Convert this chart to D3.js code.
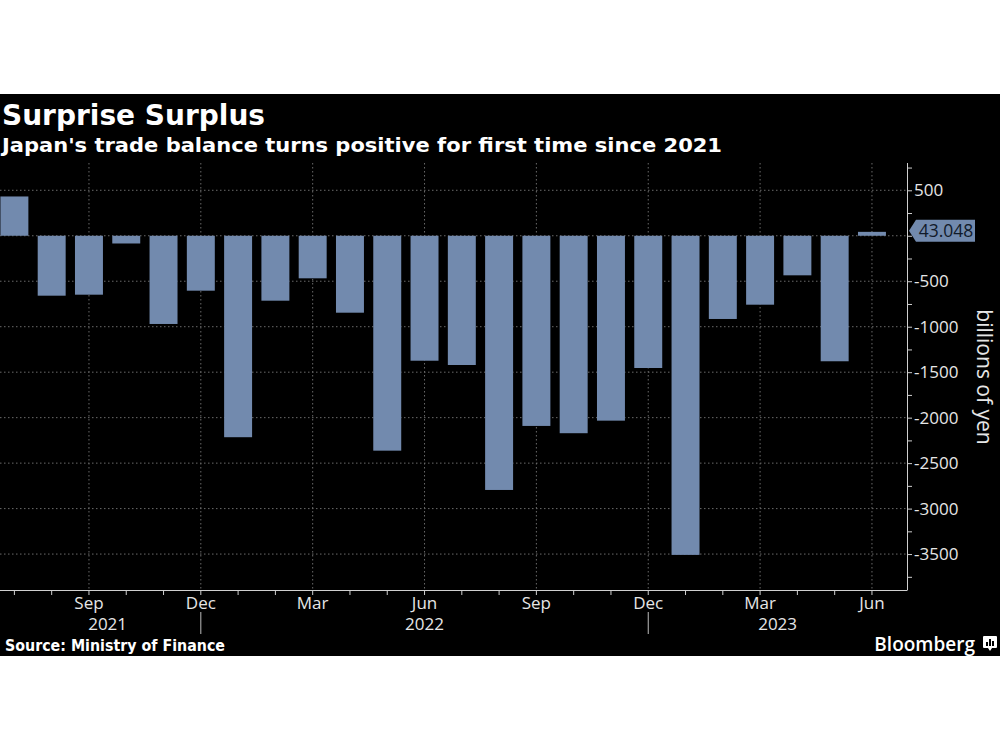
<!DOCTYPE html>
<html>
<head>
<meta charset="utf-8">
<script src="https://cdn.jsdelivr.net/npm/d3@7"></script>
<style>
  html, body { margin: 0; padding: 0; background: #ffffff; }
  svg { display: block; }
  text { font-family: "Open Sans", "Liberation Sans", sans-serif; }
  .head { font-family: "DejaVu Sans", "Open Sans", sans-serif; font-weight: 700; }
</style>
</head>
<body>
<script>
// ---- data ----
const months = ["2021-07","2021-08","2021-09","2021-10","2021-11","2021-12",
                "2022-01","2022-02","2022-03","2022-04","2022-05","2022-06",
                "2022-07","2022-08","2022-09","2022-10","2022-11","2022-12",
                "2023-01","2023-02","2023-03","2023-04","2023-05","2023-06"];
const balance = [432, -659, -648, -85, -970, -604,
                 -2215, -714, -468, -846, -2363, -1374,
                 -1421, -2795, -2091, -2171, -2033, -1454,
                 -3509, -915, -758, -435, -1380, 43.048];
const monthNames = ["Jan","Feb","Mar","Apr","May","Jun","Jul","Aug","Sep","Oct","Nov","Dec"];
const labelledMonths = [3, 6, 9, 12];
const yTickLabels = [500, -500, -1000, -1500, -2000, -2500, -3000, -3500];
const years = ["2021", "2022", "2023"];
const lastValueLabel = "43.048";
const title = "Surprise Surplus";
const subtitle = "Japan's trade balance turns positive for first time since 2021";
const source = "Source: Ministry of Finance";
const yAxisTitle = "billions of yen";

// ---- layout ----
const W = 1000, H = 750;
const bgTop = 94, bgBottom = 656;
const plotTop = 163, plotBottom = 590, plotRight = 907;
const barColor = "#728aae";
const gridColor = "#6a6a6a";
const textColor = "#e6e6e6";

const svg = d3.select("body").append("svg").attr("width", W).attr("height", H);
svg.append("rect").attr("x", 0).attr("y", bgTop).attr("width", W).attr("height", bgBottom - bgTop).attr("fill", "#000");

const x = d3.scaleBand().domain(months).range([-4.25, 890.6]).paddingInner(0.25).paddingOuter(0.125);
const y = d3.scaleLinear().domain([800, -3895]).range([plotTop, plotBottom]);
const cx = m => x(m) + x.bandwidth() / 2;
const monthOf = m => +m.split("-")[1];

// horizontal gridlines
svg.append("g").selectAll("line").data(d3.range(500, -3501, -500)).join("line")
  .attr("x1", 0).attr("x2", plotRight).attr("y1", d => y(d)).attr("y2", d => y(d))
  .attr("stroke", gridColor).attr("stroke-width", 1).attr("stroke-dasharray", "1.5,2.5");

// vertical gridlines at labelled months
svg.append("g").selectAll("line").data(months.filter(m => labelledMonths.includes(monthOf(m)))).join("line")
  .attr("x1", cx).attr("x2", cx).attr("y1", plotTop).attr("y2", plotBottom)
  .attr("stroke", gridColor).attr("stroke-width", 1).attr("stroke-dasharray", "1.5,2.5");

// bars
svg.append("g").selectAll("rect").data(months).join("rect")
  .attr("x", m => x(m)).attr("width", x.bandwidth())
  .attr("y", (m, i) => y(Math.max(0, balance[i])))
  .attr("height", (m, i) => Math.abs(y(balance[i]) - y(0)))
  .attr("fill", barColor);

// x axis
const xAxis = d3.axisBottom(x).tickSize(5).tickSizeOuter(0)
  .tickFormat(m => labelledMonths.includes(monthOf(m)) ? monthNames[monthOf(m) - 1] : "");
const gx = svg.append("g").attr("transform", `translate(0,${plotBottom})`).call(xAxis);
gx.select(".domain").remove();
gx.append("line").attr("x1", 0).attr("x2", plotRight).attr("y1", 0.5).attr("y2", 0.5).attr("stroke", "#d0d0d0");
gx.selectAll(".tick line").attr("stroke", "#d0d0d0");
gx.selectAll(".tick text").attr("fill", textColor).attr("font-size", 17).attr("dy", 0).attr("y", 19)
  .attr("font-family", "'Open Sans', sans-serif");

// year separators and labels
const decs = months.filter(m => monthOf(m) === 12);
svg.append("g").selectAll("line").data(decs).join("line")
  .attr("x1", cx).attr("x2", cx).attr("y1", 612).attr("y2", 634).attr("stroke", "#bdbdbd");
const bounds = [cx(months[0]), ...decs.map(cx), plotRight];
svg.append("g").selectAll("text").data(years).join("text")
  .attr("x", (d, i) => (bounds[i] + bounds[i + 1]) / 2).attr("y", 630)
  .attr("text-anchor", "middle").attr("fill", textColor).attr("font-size", 17).text(d => d);

// y axis (right)
const yAxis = d3.axisRight(y).tickValues(d3.range(750, -3751, -250)).tickSize(5).tickSizeOuter(0)
  .tickFormat(d => yTickLabels.includes(d) ? d : "");
const gy = svg.append("g").attr("transform", `translate(${plotRight},0)`).call(yAxis);
gy.select(".domain").remove();
gy.append("line").attr("x1", 0.5).attr("x2", 0.5).attr("y1", plotTop).attr("y2", plotBottom + 0.5).attr("stroke", "#d0d0d0");
gy.selectAll(".tick line").attr("stroke", "#d0d0d0");
gy.selectAll(".tick text").attr("fill", textColor).attr("font-size", 17).attr("x", 7)
  .attr("font-family", "'Open Sans', sans-serif");

// y axis title
svg.append("text").attr("transform", `translate(977,377) rotate(90)`)
  .attr("text-anchor", "middle").attr("fill", textColor).attr("font-size", 21).text(yAxisTitle);

// last value label
const lv = y(balance[balance.length - 1]) - 1;
const lg = svg.append("g").attr("transform", `translate(${plotRight + 2},${lv})`);
lg.append("path").attr("d", "M0,0 L7,-11 L66,-11 L66,11 L7,11 Z").attr("fill", barColor);
lg.append("text").attr("x", 37).attr("y", 6.5).attr("text-anchor", "middle").attr("fill", "#111a2a")
  .attr("font-size", 17.5).text(lastValueLabel);

// titles
svg.append("text").attr("class", "head").attr("x", 2).attr("y", 125).attr("fill", "#fff")
  .attr("font-size", 28).attr("textLength", 263).attr("lengthAdjust", "spacingAndGlyphs").text(title);
svg.append("text").attr("class", "head").attr("x", 2).attr("y", 152).attr("fill", "#fff")
  .attr("font-size", 20).attr("textLength", 720).attr("lengthAdjust", "spacingAndGlyphs").text(subtitle);

// source & logo
svg.append("text").attr("class", "head").attr("x", 5).attr("y", 651).attr("fill", "#fff")
  .attr("font-size", 15).attr("textLength", 220).attr("lengthAdjust", "spacingAndGlyphs").text(source);
svg.append("text").attr("x", 975).attr("y", 651).attr("text-anchor", "end").attr("fill", "#fff")
  .attr("font-weight", 600).attr("font-size", 19).text("Bloomberg");
const icon = svg.append("g").attr("transform", "translate(983,636)");
icon.append("path").attr("d", "M1,0 H13 a1,1 0 0 1 1,1 V11 a1,1 0 0 1 -1,1 H9 L7,15 L5,12 H1 a1,1 0 0 1 -1,-1 V1 a1,1 0 0 1 1,-1 Z").attr("fill", "#fff");
icon.append("rect").attr("x", 3).attr("y", 6).attr("width", 2).attr("height", 4).attr("fill", "#000");
icon.append("rect").attr("x", 6).attr("y", 3).attr("width", 2).attr("height", 7).attr("fill", "#000");
icon.append("rect").attr("x", 9).attr("y", 5).attr("width", 2).attr("height", 5).attr("fill", "#000");
</script>
</body>
</html>
